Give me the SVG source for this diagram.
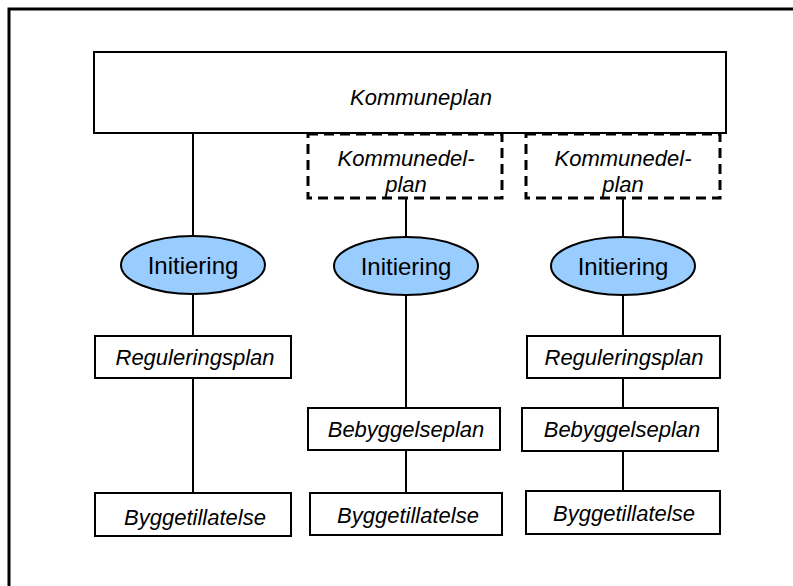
<svg xmlns="http://www.w3.org/2000/svg" width="793" height="586" viewBox="0 0 793 586">
  <style>
    .box { fill: #ffffff; stroke: #000000; stroke-width: 2; }
    .dash { fill: #ffffff; stroke: #000000; stroke-width: 3; stroke-dasharray: 10 6; }
    .ell { fill: #99ccff; stroke: #000000; stroke-width: 2; }
    .lbl { font-family: "Liberation Sans", Arial, sans-serif; font-style: italic; font-size: 22px; fill: #000000; text-anchor: middle; }
    .ini { font-family: "Liberation Sans", Arial, sans-serif; font-size: 24px; fill: #000000; text-anchor: middle; }
    .con { stroke: #000000; stroke-width: 2; fill: none; }
  </style>
  <rect x="0" y="0" width="793" height="586" fill="#ffffff"/>
  <!-- page frame (top and left edges) -->
  <path d="M9 586 V9 H793" fill="none" stroke="#000000" stroke-width="3"/>

  <g id="connectors">
    <line class="con" x1="193" y1="133" x2="193" y2="237"/>
    <line class="con" x1="193" y1="294" x2="193" y2="336"/>
    <line class="con" x1="193" y1="378" x2="193" y2="493"/>
    <line class="con" x1="406" y1="198" x2="406" y2="237"/>
    <line class="con" x1="406" y1="295" x2="406" y2="408"/>
    <line class="con" x1="406" y1="450" x2="406" y2="493"/>
    <line class="con" x1="623" y1="198" x2="623" y2="237"/>
    <line class="con" x1="623" y1="295" x2="623" y2="336"/>
    <line class="con" x1="623" y1="378" x2="623" y2="408"/>
    <line class="con" x1="623" y1="451" x2="623" y2="491"/>
  </g>

  <g id="kommuneplan">
    <rect class="box" x="94" y="52" width="632" height="81"/>
    <text class="lbl" x="421" y="105">Kommuneplan</text>
  </g>

  <g id="kommunedelplan-1">
    <rect class="dash" x="308" y="134" width="194" height="64"/>
    <text class="lbl" x="406" y="166">Kommunedel-</text>
    <text class="lbl" x="406" y="192">plan</text>
  </g>
  <g id="kommunedelplan-2">
    <rect class="dash" x="526" y="134" width="194" height="64"/>
    <text class="lbl" x="623" y="166">Kommunedel-</text>
    <text class="lbl" x="623" y="192">plan</text>
  </g>

  <g id="initiering-1">
    <ellipse class="ell" cx="193" cy="265" rx="72" ry="29"/>
    <text class="ini" x="193" y="274">Initiering</text>
  </g>
  <g id="initiering-2">
    <ellipse class="ell" cx="406" cy="266" rx="72" ry="29"/>
    <text class="ini" x="406" y="275">Initiering</text>
  </g>
  <g id="initiering-3">
    <ellipse class="ell" cx="623" cy="266" rx="72" ry="29"/>
    <text class="ini" x="623" y="275">Initiering</text>
  </g>

  <g id="reguleringsplan-1">
    <rect class="box" x="95" y="336" width="196" height="42"/>
    <text class="lbl" x="195" y="365">Reguleringsplan</text>
  </g>
  <g id="reguleringsplan-3">
    <rect class="box" x="527" y="336" width="193" height="42"/>
    <text class="lbl" x="624" y="365">Reguleringsplan</text>
  </g>

  <g id="bebyggelseplan-2">
    <rect class="box" x="308" y="408" width="192" height="42"/>
    <text class="lbl" x="406" y="437">Bebyggelseplan</text>
  </g>
  <g id="bebyggelseplan-3">
    <rect class="box" x="522" y="408" width="196" height="43"/>
    <text class="lbl" x="622" y="437">Bebyggelseplan</text>
  </g>

  <g id="byggetillatelse-1">
    <rect class="box" x="95" y="493" width="196" height="43"/>
    <text class="lbl" x="195" y="525">Byggetillatelse</text>
  </g>
  <g id="byggetillatelse-2">
    <rect class="box" x="310" y="493" width="192" height="42"/>
    <text class="lbl" x="408" y="523">Byggetillatelse</text>
  </g>
  <g id="byggetillatelse-3">
    <rect class="box" x="526" y="491" width="194" height="43"/>
    <text class="lbl" x="624" y="521">Byggetillatelse</text>
  </g>
</svg>
